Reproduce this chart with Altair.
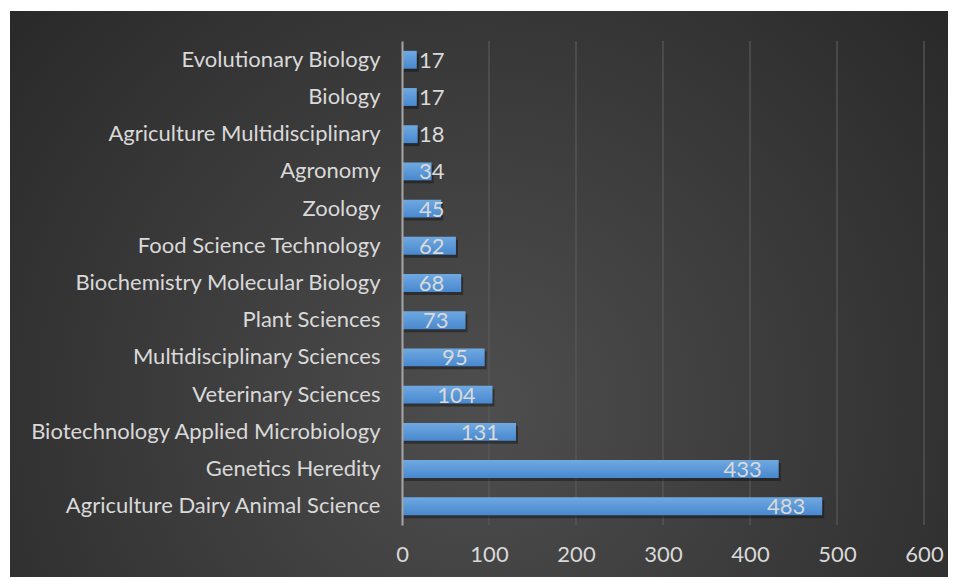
import altair as alt
import pandas as pd

categories = [
    "Evolutionary Biology", "Biology", "Agriculture Multidisciplinary", "Agronomy",
    "Zoology", "Food Science Technology", "Biochemistry Molecular Biology",
    "Plant Sciences", "Multidisciplinary Sciences", "Veterinary Sciences",
    "Biotechnology Applied Microbiology", "Genetics Heredity",
    "Agriculture Dairy Animal Science",
]
counts = [17, 17, 18, 34, 45, 62, 68, 73, 95, 104, 131, 433, 483]
x_ticks = [0, 100, 200, 300, 400, 500, 600]

df = pd.DataFrame({"category": categories, "count": counts})
df["small"] = df["count"] <= 62
grid_df = pd.DataFrame({"tick": x_ticks[1:]})
bg_df = pd.DataFrame({"a": [0]})

W, H = 522, 484
FONT = "Lato"
FS = 22
LABEL = "#d9d9d9"

xscale = alt.Scale(domain=[0, 600], nice=False)
yscale = alt.Scale(domain=categories, paddingInner=0.52, paddingOuter=0.265)
xaxis = alt.Axis(values=x_ticks, grid=False, ticks=False, domain=False,
                 labelFont=FONT, labelFontSize=FS, labelColor=LABEL,
                 labelFlush=False, labelOverlap=False,
                 labelPadding=19, title=None, zindex=1)
yaxis = alt.Axis(ticks=False, domain=True, domainColor="#a6a6a6",
                 domainWidth=2, labelFont=FONT, labelFontSize=FS,
                 labelColor=LABEL, labelPadding=22, labelLimit=0,
                 title=None, zindex=1)

bg = alt.Chart(bg_df).mark_rect(
    color=alt.Gradient(
        gradient="radial",
        stops=[alt.GradientStop(color="#4e4e4e", offset=0),
               alt.GradientStop(color="#222222", offset=1)],
        x1=0.5, y1=0.62, r1=0, x2=0.5, y2=0.62, r2=0.78,
    )
).encode(
    x=alt.value(-392), x2=alt.value(546), y=alt.value(-30), y2=alt.value(536)
)

grid = alt.Chart(grid_df).mark_rule(color="#5a5a5a", strokeWidth=1.2).encode(
    x=alt.X("tick:Q", scale=xscale, axis=xaxis),
    y=alt.value(0), y2=alt.value(H),
)

shadow = alt.Chart(df).mark_bar(color="#000000", opacity=0.35, xOffset=2, yOffset=3).encode(
    x=alt.X("count:Q", scale=xscale, axis=xaxis),
    y=alt.Y("category:N", scale=yscale, sort=categories, axis=yaxis),
)

bars = alt.Chart(df).mark_bar(
    color=alt.Gradient(
        gradient="linear",
        stops=[alt.GradientStop(color="#6fa9e1", offset=0),
               alt.GradientStop(color="#4888cf", offset=1)],
        x1=0, x2=0, y1=0, y2=1,
    )
).encode(
    x=alt.X("count:Q", scale=xscale, axis=xaxis),
    y=alt.Y("category:N", scale=yscale, sort=categories, axis=yaxis),
)

big_text = alt.Chart(df).transform_filter("!datum.small").mark_text(
    align="right", baseline="middle", dx=-17, dy=1, font=FONT, fontSize=FS, color=LABEL
).encode(
    x=alt.X("count:Q", scale=xscale, axis=xaxis),
    y=alt.Y("category:N", scale=yscale, sort=categories, axis=yaxis),
    text="count:Q",
)

small_text = alt.Chart(df).transform_filter("datum.small").mark_text(
    align="left", baseline="middle", dx=17, dy=1, font=FONT, fontSize=FS, color=LABEL
).encode(
    x=alt.value(0),
    y=alt.Y("category:N", scale=yscale, sort=categories, axis=yaxis),
    text="count:Q",
)

chart = alt.layer(bg, grid, shadow, bars, big_text, small_text).properties(
    width=W, height=H,
    autosize=alt.AutoSizeParams(type="none"),
    padding={"left": 394, "top": 33, "right": 26, "bottom": 54},
    background="#ffffff",
).configure_view(stroke=None)

chart.save("out.html", embed_options={"renderer": "svg", "actions": False})
